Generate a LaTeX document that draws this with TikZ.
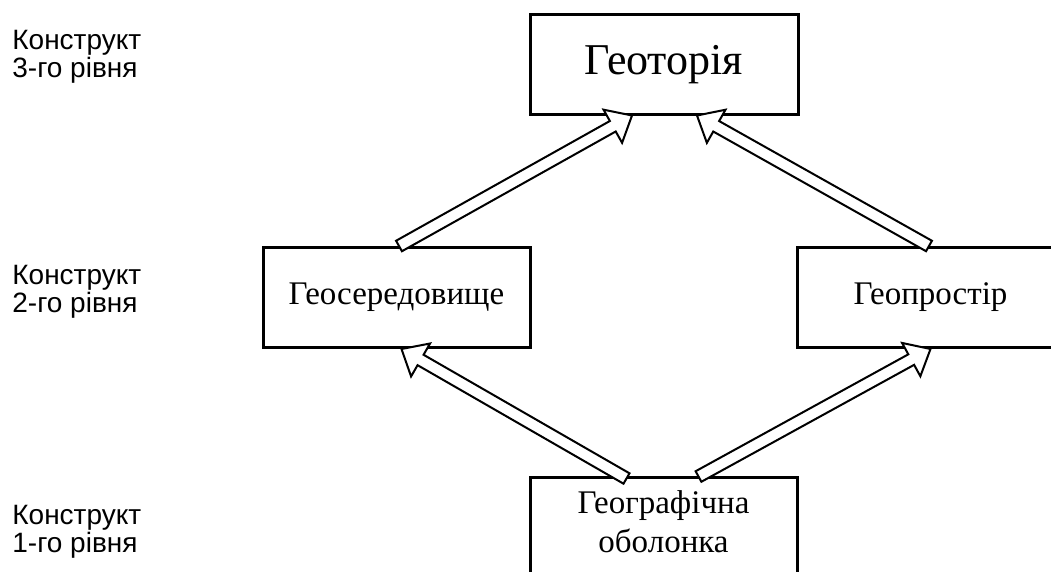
\documentclass[tikz,border=0pt]{standalone}
\usepackage{fontspec}
\setmainfont{Liberation Serif}
\newfontfamily\labelfont{Liberation Sans}
\usetikzlibrary{calc}
\usetikzlibrary{positioning}
\tikzset{geobox/.style={draw,line width=1.5pt,minimum width=133.5pt,minimum height=50pt,inner sep=0pt,align=center,font=\fontsize{16.5}{19.5}\selectfont},
levellabel/.style={anchor=north west,inner sep=0pt,align=left,font=\labelfont\fontsize{14}{14}\selectfont},
hollow arrow/.style={draw,fill=white,line width=1pt,line join=miter}}
% hollow double-line arrow from #1 to #2
\newcommand{\geoarrow}[2]{%
\draw[hollow arrow] let \p1=($(#2)-(#1)$), \n1={atan2(\y1,\x1)} in
($(#1)+(\n1+90:3pt)$) -- ($(#2)+(\n1+180:11pt)+(\n1+90:3pt)$) -- ($(#2)+(\n1+180:11pt)+(\n1+90:9.5pt)$) -- (#2)
-- ($(#2)+(\n1+180:11pt)+(\n1-90:9.5pt)$) -- ($(#2)+(\n1+180:11pt)+(\n1-90:3pt)$) -- ($(#1)+(\n1-90:3pt)$) -- cycle;}

\begin{document}
\begin{tikzpicture}[x=0.5pt,y=-0.5pt]
\useasboundingbox (0,0) rectangle (1051,572);
\clip (0,0) rectangle (1051,572);

\node (geotor) at (664,65) [geobox,minimum width=134pt,font=\fontsize{22}{24}\selectfont] {Геоторія};
\node (geoser) at (396.5,297.5) [geobox] {Геосередовище};
\node (geoprost) at (930.5,297.5) [geobox] {Геопростір};
\node (geoob) at (663.5,528) [geobox,text depth=6pt] {Географічна\\оболонка};

\foreach \lvl/\y in {3/30, 2/265, 1/505} {
\node (lvl\lvl) at (12,\y) [levellabel] {Конструкт\\\lvl-го рівня};
}

\coordinate (a1s) at ($(geoser.north)+(2.5,0)$);
\coordinate (a1t) at ($(geotor.south)+(-32,-1)$);
\coordinate (a2s) at ($(geoprost.north)+(-1.5,0)$);
\coordinate (a2t) at ($(geotor.south)+(33,-1)$);
\coordinate (a3s) at ($(geoob.north)+(-37,2)$);
\coordinate (a3t) at ($(geoser.south)+(5,0)$);
\coordinate (a4s) at ($(geoob.north)+(35,0)$);
\coordinate (a4t) at (geoprost.south);

\foreach \k in {1, 2, 3, 4} {
\geoarrow{a\k s}{a\k t}
}

\end{tikzpicture}
\end{document}
